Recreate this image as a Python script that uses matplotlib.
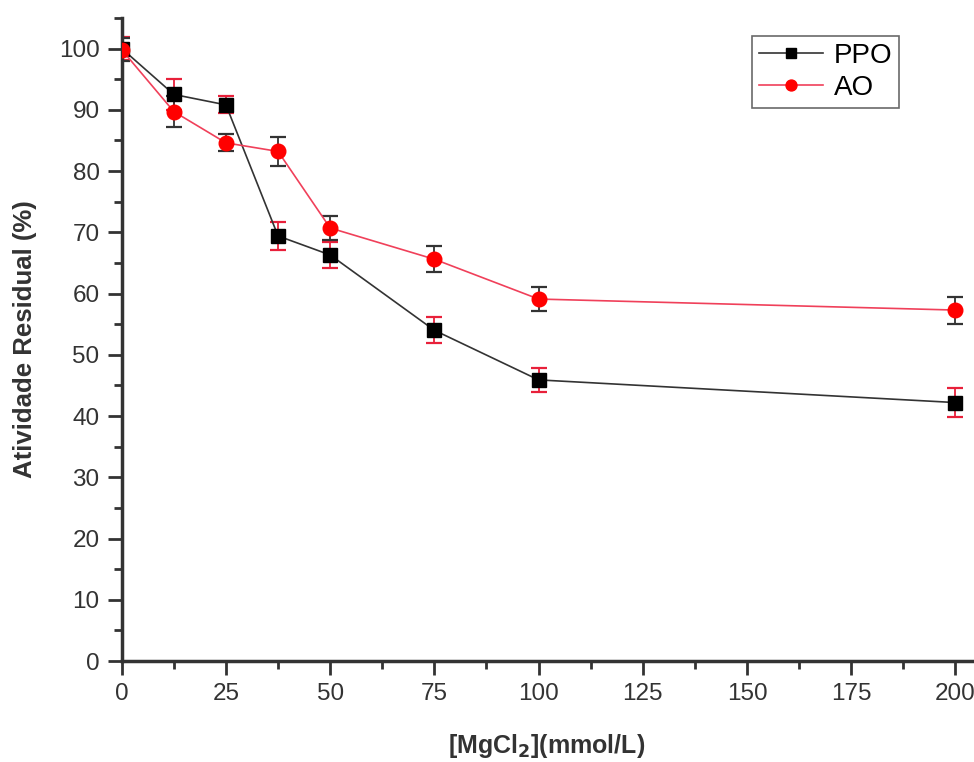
import matplotlib
matplotlib.use("Agg")
import matplotlib.pyplot as plt
from matplotlib.ticker import MultipleLocator

plt.rcParams['font.family'] = ['Liberation Sans', 'DejaVu Sans']

conc = [0, 12.5, 25, 37.5, 50, 75, 100, 200]
ppo = [100, 92.5, 90.8, 69.4, 66.3, 54.0, 45.9, 42.2]
ppo_err = [1.9, 2.5, 1.4, 2.3, 2.1, 2.1, 2.0, 2.3]
ao = [99.8, 89.7, 84.6, 83.2, 70.7, 65.6, 59.1, 57.3]
ao_err = [1.9, 2.5, 1.4, 2.3, 1.9, 2.1, 1.9, 2.2]

fig = plt.figure(figsize=(9.74, 7.62), dpi=100)
ax = fig.add_axes([0.125, 0.1325, 0.873, 0.844])

ax.errorbar(conc, ppo, yerr=ppo_err, fmt='none', ecolor='#e8203a',
            elinewidth=1.3, capsize=6, capthick=1.6, zorder=2)
ax.errorbar(conc, ao, yerr=ao_err, fmt='none', ecolor='#333333',
            elinewidth=1.3, capsize=6, capthick=1.6, zorder=2)
ax.plot(conc, ppo, color='#333333', lw=1.2, marker='s', ms=9.5,
        mfc='black', mec='black', label='PPO', zorder=3)
ax.plot(conc, ao, color='#f0405a', lw=1.2, marker='o', ms=10.5,
        mfc='red', mec='red', label='AO', zorder=3)

ax.set_xlim(0, 204)
ax.set_ylim(0, 105)
ax.xaxis.set_major_locator(MultipleLocator(25))
ax.xaxis.set_minor_locator(MultipleLocator(12.5))
ax.yaxis.set_major_locator(MultipleLocator(10))
ax.yaxis.set_minor_locator(MultipleLocator(5))
ax.set_yticks(range(0, 101, 10))

for s in ['top', 'right']:
    ax.spines[s].set_visible(False)
for s in ['left', 'bottom']:
    ax.spines[s].set_linewidth(2.5)
    ax.spines[s].set_color('#333333')

ax.tick_params(which='major', direction='out', length=10, width=2,
               labelsize=17.5, colors='#333333', labelcolor='#333333', pad=6)
ax.tick_params(which='minor', direction='out', length=6, width=2,
               colors='#333333')

ax.set_xlabel(r'[MgCl$_\mathbf{2}$](mmol/L)', fontsize=18,
              fontweight='bold', color='#333333', labelpad=19)
ax.set_ylabel('Atividade Residual (%)', fontsize=18.5, fontweight='bold',
              color='#333333', labelpad=16)

leg = ax.legend(loc='upper left', bbox_to_anchor=(0.772, 0.953),
                bbox_transform=fig.transFigure, fontsize=20, frameon=True,
                fancybox=False, edgecolor='#444444', handlelength=2.3,
                borderpad=0.25, labelspacing=0.22, handletextpad=0.4,
                borderaxespad=0, markerscale=0.75)
leg.get_frame().set_linewidth(1.2)

fig.savefig('out.png', dpi=100)
